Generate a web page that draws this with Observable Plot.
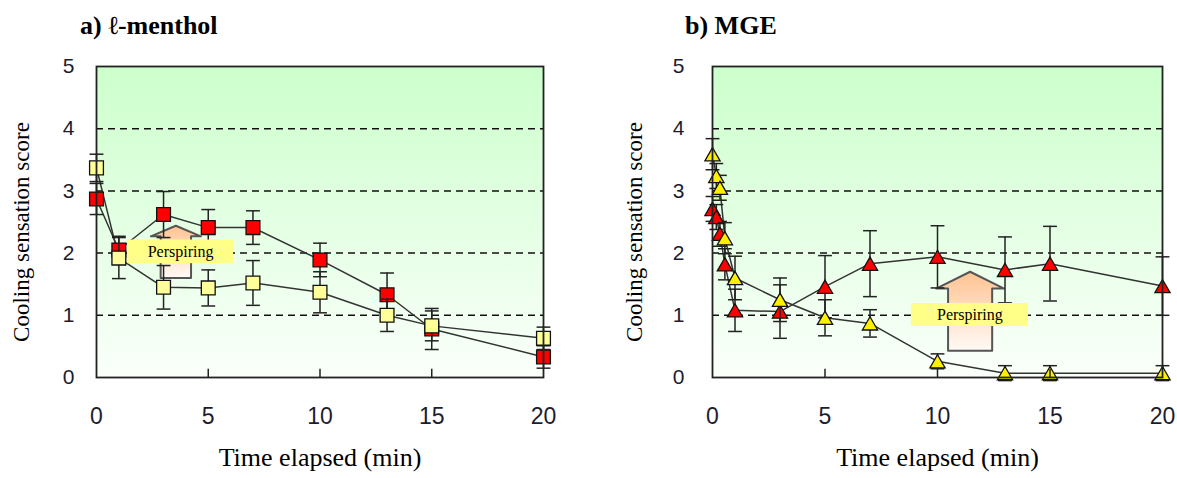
<!DOCTYPE html>
<html><head><meta charset="utf-8">
<script src="https://cdn.jsdelivr.net/npm/d3@7"></script>
<script src="https://cdn.jsdelivr.net/npm/@observablehq/plot@0.6"></script>
<style>
body{margin:0;background:#fff;}
#wrap{position:relative;width:1177px;height:478px;overflow:hidden;background:#fff;}
.title{position:absolute;top:13px;font-family:"Liberation Serif","Times New Roman",serif;font-weight:bold;font-size:26px;line-height:26px;color:#000;white-space:nowrap;}
.panel{position:absolute;top:0;}
</style></head><body>
<svg width="0" height="0" style="position:absolute">
<defs>
<linearGradient id="bgGrad" x1="0" y1="0" x2="0" y2="1">
<stop offset="0" stop-color="#ccffcc"/><stop offset="1" stop-color="#fbfffb"/></linearGradient>
<linearGradient id="arrowGrad" x1="0" y1="0" x2="0" y2="1">
<stop offset="0" stop-color="#ffc392"/><stop offset="1" stop-color="#fffaf6"/></linearGradient>
</defs></svg>
<div id="wrap">
<div class="title" style="left:80px">a) ℓ-menthol</div>
<div class="title" style="left:685px">b) MGE</div>
<div class="panel" id="pa" style="left:0px"></div>
<div class="panel" id="pb" style="left:616px"></div>
</div>
<script>
// ---------- data ----------
const yTicks = [0, 1, 2, 3, 4, 5];
const xTicks = [0, 5, 10, 15, 20];
const innerXTicks = [5, 10, 15];
const gridY = [1, 2, 3, 4];
const xLabel = "Time elapsed (min)";
const yLabel = "Cooling sensation score";
const annotationText = "Perspiring";

// a) l-menthol
const mentholTime = [0, 1, 3, 5, 7, 10, 13, 15, 20];
const mentholRed = [2.87, 2.05, 2.62, 2.41, 2.41, 1.89, 1.33, 0.78, 0.33];
const mentholRedErr = [0.25, 0.22, 0.37, 0.29, 0.27, 0.27, 0.35, 0.33, 0.18];
const mentholYellow = [3.37, 1.92, 1.45, 1.44, 1.52, 1.37, 1.0, 0.83, 0.63];
const mentholYellowErr = [0.22, 0.33, 0.35, 0.29, 0.36, 0.33, 0.26, 0.24, 0.18];

// b) MGE
const mgeTime = [0, 0.17, 0.33, 0.55, 1, 3, 5, 7, 10, 13, 15, 20];
const mgeRed = [2.71, 2.58, 2.31, 1.82, 1.08, 1.06, 1.46, 1.83, 1.94, 1.73, 1.83, 1.47];
const mgeRedErr = [0.2, 0.2, 0.2, 0.25, 0.34, 0.43, 0.5, 0.53, 0.5, 0.53, 0.6, 0.47];
const mgeYellow = [3.59, 3.24, 3.05, 2.24, 1.6, 1.25, 0.96, 0.87, 0.26, 0.07, 0.07, 0.07];
const mgeYellowErr = [0.25, 0.2, 0.2, 0.25, 0.35, 0.35, 0.29, 0.22, 0.12, 0.12, 0.12, 0.12];

// arrow annotation: [centerX, halfHead, halfShaft, yBottom, yShoulder, yTip]
const mentholArrow = [3.55, 1.12, 0.68, 1.6, 2.27, 2.44];
const mgeArrow = [11.45, 1.51, 0.98, 0.43, 1.43, 1.70];
// label box: [x1, x2, y1, y2]
const mentholLabelBox = [1.39, 6.13, 1.83, 2.21];
const mgeLabelBox = [8.84, 14.04, 0.82, 1.19];

// ---------- symbols ----------
const capSymbol = {draw(ctx, size){const w = Math.sqrt(size); ctx.moveTo(-w/2, 0); ctx.lineTo(w/2, 0);}};
const tickSymbol = {draw(ctx, size){const h = Math.sqrt(size); ctx.moveTo(0, 0); ctx.lineTo(0, -h);}};
const triSymbol = {draw(ctx, size){const s = Math.sqrt(size); const w = s*0.38, h = s*0.33;
  ctx.moveTo(0, -h); ctx.lineTo(w, h); ctx.lineTo(-w, h); ctx.closePath();}};

const SERIF = '"Liberation Serif", "Times New Roman", serif';
const SANS = '"Liberation Sans", Arial, sans-serif';
const serifTexts = new Set([xLabel, yLabel, annotationText]);

function rows(time, vals, errs){ return time.map((t, i) => ({t, v: vals[i], e: errs[i]})); }

function arrowPoly(a){
  const [cx, hw, sw, yB, ySh, yT] = a;
  return [[cx-sw,yB],[cx-sw,ySh],[cx-hw,ySh],[cx,yT],[cx+hw,ySh],[cx+sw,ySh],[cx+sw,yB],[cx-sw,yB]]
    .map(([x,y]) => ({x, y}));
}

function panel({width, marginLeft, marginRight, tickPad, yLabelDx, series, symbol, r, arrow, box}){
  const marks = [
    Plot.frame({fill: "url(#bgGrad)"}),
    Plot.ruleY(gridY, {stroke: "#111", strokeWidth: 1.5, strokeDasharray: "7,5"}),
    Plot.line(arrowPoly(arrow), {x: "x", y: "y", fill: "url(#arrowGrad)", stroke: "#555", strokeWidth: 2}),
  ];
  for (const s of series) marks.push(Plot.line(s.data, {x: "t", y: "v", stroke: "#333", strokeWidth: 1.5}));
  for (const s of series) {
    marks.push(
      Plot.ruleX(s.data, {x: "t", y1: d => d.v - d.e, y2: d => d.v + d.e, stroke: "#222", strokeWidth: 1.5}),
      Plot.dot(s.data, {x: "t", y: d => d.v + d.e, symbol: capSymbol, r: 7.8, fill: "none", stroke: "#222", strokeWidth: 1.5}),
      Plot.dot(s.data, {x: "t", y: d => d.v - d.e, symbol: capSymbol, r: 7.8, fill: "none", stroke: "#222", strokeWidth: 1.5}),
      Plot.dot(s.data, {x: "t", y: "v", symbol, r, fill: s.fill, stroke: "#111", strokeWidth: 1.3})
    );
  }
  marks.push(
    Plot.rect([box], {x1: d => d[0], x2: d => d[1], y1: d => d[2], y2: d => d[3], fill: "#ffff88"}),
    Plot.text([box], {x: d => (d[0]+d[1])/2, y: d => (d[2]+d[3])/2, text: () => annotationText,
      fontSize: 16, fill: "#000"}),
    Plot.dot(innerXTicks, {x: d => d, y: () => 0, symbol: tickSymbol, r: 5, fill: "none", stroke: "#222", strokeWidth: 1.5}),
    Plot.frame({stroke: "#222", strokeWidth: 1.8}),
    Plot.axisY({ticks: yTicks, tickFormat: d => String(d), tickSize: 0, tickPadding: tickPad, fontSize: 21,
      fill: "#1c1c2e", label: null}),
    Plot.axisX({ticks: xTicks, tickFormat: d => String(d), tickSize: 0, tickPadding: 30, fontSize: 23,
      fill: "#1c1c2e", label: null}),
    Plot.text([yLabel], {frameAnchor: "left", rotate: -90, dx: yLabelDx, dy: 10, text: d => d, textAnchor: "middle",
      fontSize: 23, fill: "#000"}),
    Plot.text([xLabel], {frameAnchor: "bottom", dy: 88, text: d => d, textAnchor: "middle",
      fontSize: 26, fill: "#000"})
  );
  const svg = Plot.plot({
    width, height: 478,
    marginLeft, marginRight, marginTop: 66, marginBottom: 101,
    x: {domain: [0, 20]},
    y: {domain: [0, 5]},
    style: {background: "transparent", overflow: "visible"},
    marks
  });
  svg.querySelectorAll("text").forEach(t => {
    t.style.fontFamily = serifTexts.has(t.textContent.trim()) ? SERIF : SANS;
  });
  return svg;
}

document.getElementById("pa").appendChild(panel({
  width: 590, marginLeft: 96, marginRight: 47, tickPad: 22, yLabelDx: -75,
  symbol: "square", r: 7.8,
  series: [
    {data: rows(mentholTime, mentholRed, mentholRedErr), fill: "#ff0000"},
    {data: rows(mentholTime, mentholYellow, mentholYellowErr), fill: "#ffff99"}
  ],
  arrow: mentholArrow, box: mentholLabelBox
}));
document.getElementById("pb").appendChild(panel({
  width: 561, marginLeft: 96, marginRight: 15, tickPad: 28, yLabelDx: -78,
  symbol: triSymbol, r: 11.3,
  series: [
    {data: rows(mgeTime, mgeRed, mgeRedErr), fill: "#ff0000"},
    {data: rows(mgeTime, mgeYellow, mgeYellowErr), fill: "#fff000"}
  ],
  arrow: mgeArrow, box: mgeLabelBox
}));
</script>
</body></html>
